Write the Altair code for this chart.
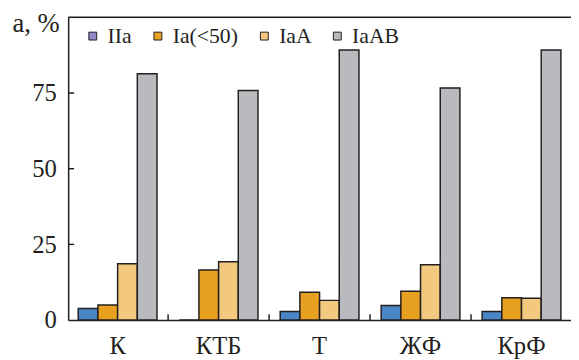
import altair as alt
import pandas as pd

groups = ["К", "КТБ", "Т", "ЖФ", "КрФ"]
series = ["IIa", "Ia(<50)", "IaA", "IaAB"]
val_IIa = [3.8, 0.0, 2.8, 4.8, 2.8]
val_Ia50 = [5.0, 16.5, 9.2, 9.5, 7.4]
val_IaA = [18.6, 19.3, 6.5, 18.3, 7.2]
val_IaAB = [81.4, 75.8, 89.2, 76.7, 89.2]
bar_colors = ["#4a86c5", "#e8a020", "#f2c97f", "#b9babd"]
legend_colors = ["#8f88c8", "#e8a020", "#f2c97f", "#b9babd"]
y_ticks = [0, 25, 50, 75]

rows = []
for s, vals in zip(series, [val_IIa, val_Ia50, val_IaA, val_IaAB]):
    for g, v in zip(groups, vals):
        rows.append({"group": g, "series": s, "value": v})
df = pd.DataFrame(rows)

W, H = 510, 307
P_IN, P_OUT = 0.22, 0.1
step = W / (len(groups) - P_IN + 2 * P_OUT)
gap = step * P_IN
FONT = "Liberation Serif"
INK = "#231f20"

xscale = alt.Scale(domain=groups, paddingInner=P_IN, paddingOuter=P_OUT)
yscale = alt.Scale(domain=[0, 100], nice=False)

bars = alt.Chart(df).mark_bar(stroke=INK, strokeWidth=1.5, clip=True).encode(
    x=alt.X("group:N", scale=xscale, sort=groups,
            axis=alt.Axis(title=None, labelAngle=0, ticks=False, domain=True,
                          domainColor=INK, domainWidth=1.5, labelFont=FONT,
                          labelFontSize=25, labelColor=INK, labelPadding=14,
                          labelBaseline="top")),
    xOffset=alt.XOffset("series:N", sort=series, scale=alt.Scale(paddingInner=0, paddingOuter=0)),
    y=alt.Y("value:Q", scale=yscale,
            axis=alt.Axis(title="а, %", titleAngle=0, titleAlign="right", titleX=-9,
                          titleY=14, titleBaseline="alphabetic", titleFont=FONT,
                          titleFontSize=27, titleFontWeight="normal", titleColor=INK,
                          values=y_ticks, ticks=False, grid=False, domain=True,
                          domainColor=INK, domainWidth=1.5, labelFont=FONT,
                          labelFontSize=25, labelColor=INK, labelPadding=12)),
    color=alt.Color("series:N", sort=series,
                    scale=alt.Scale(domain=series, range=bar_colors), legend=None),
)

legend_df = pd.DataFrame({"series": series, "value": [-50] * 4, "group": groups[:4]})
legend_layer = alt.Chart(legend_df).mark_square(clip=True, filled=True, opacity=1).encode(
    x=alt.X("group:N", scale=xscale, sort=groups),
    y=alt.Y("value:Q", scale=yscale),
    color=alt.Color("series:N", sort=series,
                    scale=alt.Scale(domain=series, range=legend_colors),
                    legend=alt.Legend(title=None, orient="none", direction="horizontal",
                                      legendX=14, legendY=8, padding=0,
                                      symbolType="square", symbolSize=64,
                                      symbolStrokeColor=INK, symbolStrokeWidth=1,
                                      symbolOpacity=1, labelFont=FONT, labelFontSize=22,
                                      labelColor=INK, labelOffset=4, columnPadding=15)),
)

xt_df = pd.DataFrame({"group": groups[1:]})
x_ticks = alt.Chart(xt_df).mark_rule(color=INK, strokeWidth=1.5, xOffset=-gap / 2).encode(
    x=alt.X("group:N", scale=xscale, sort=groups, bandPosition=0),
    y=alt.datum(0, scale=yscale),
    y2=alt.value(H - 6),
)

yt_df = pd.DataFrame({"value": y_ticks[1:]})
y_tick_layer = alt.Chart(yt_df).mark_rule(color=INK, strokeWidth=1.5).encode(
    y=alt.Y("value:Q", scale=yscale),
    x=alt.value(0),
    x2=alt.value(6),
)

top_df = pd.DataFrame({"value": [100]})
top_line = alt.Chart(top_df).mark_rule(color=INK, strokeWidth=1.5).encode(
    y=alt.Y("value:Q", scale=yscale),
    x=alt.value(0),
    x2=alt.value(W),
)

chart = alt.layer(bars, legend_layer, x_ticks, y_tick_layer, top_line).resolve_scale(
    color="independent"
).properties(
    width=W, height=H,
    autosize=alt.AutoSizeParams(type="none"),
    padding={"left": 61, "top": 7, "right": 0, "bottom": 37},
).configure_view(stroke=None).configure(background="white")

chart.save("out.html", embed_options={"renderer": "svg", "actions": False})
